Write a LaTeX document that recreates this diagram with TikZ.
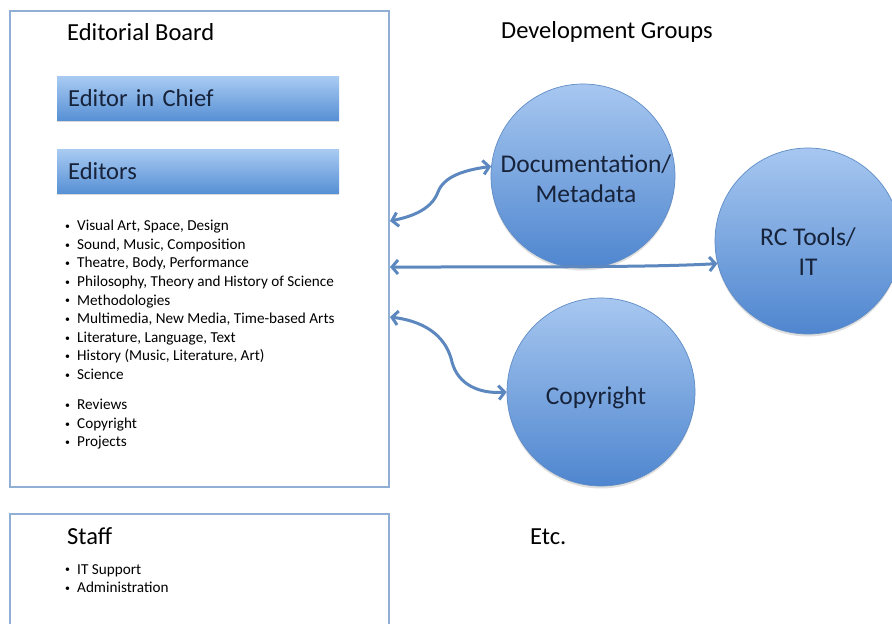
\documentclass[tikz,border=0pt]{standalone}
\usepackage{fontspec}
\setmainfont{Carlito}
\usetikzlibrary{arrows.meta,shadows}
\definecolor{frameblue}{HTML}{91AED4}
\definecolor{arrowblue}{HTML}{5C88BF}
\definecolor{bartop}{HTML}{A9CBF2}
\definecolor{barbot}{HTML}{5790D5}
\definecolor{circtop}{HTML}{A7C7F0}
\definecolor{circbot}{HTML}{4F86CF}
\definecolor{circline}{HTML}{5F8CC6}
\definecolor{darktext}{HTML}{17233A}
\newcommand{\bul}{\makebox[12pt][l]{\raisebox{1.2pt}{\scalebox{0.65}{\textbullet}}}}
\tikzset{
  panel/.style={draw=frameblue, line width=1.5pt, fill=white,
    drop shadow={opacity=0.15, shadow xshift=0pt, shadow yshift=-1.5pt}},
  titletext/.style={anchor=west, inner sep=0pt, font=\fontsize{24.5}{28}\selectfont, text=black},
  bar/.style={minimum width=281pt, minimum height=44pt, top color=bartop, bottom color=barbot,
    draw=none, anchor=north west, text width=260pt, align=left, inner xsep=11pt,
    font=\fontsize{24.5}{28}\selectfont, text=darktext,
    drop shadow={opacity=0.3, shadow xshift=0pt, shadow yshift=-2pt}},
  group/.style={circle, minimum size=#1, top color=circtop, bottom color=circbot,
    draw=circline, line width=0.7pt,
    drop shadow={opacity=0.25, shadow xshift=0pt, shadow yshift=-2.5pt}},
  grouptext/.style={align=center, text=darktext, font=\fontsize{25.5}{30}\selectfont},
  itemlist/.style={anchor=north west, inner sep=0pt, align=left,
    font=\fontsize{15.2}{18.6}\selectfont, text=black},
  link/.style={draw=arrowblue, line width=3pt,
    {Straight Barb[length=6pt,width=14pt]}-{Straight Barb[length=6pt,width=14pt]}}
}
\begin{document}
\begin{tikzpicture}[x=1pt,y=-1pt]
\useasboundingbox (0,0) rectangle (892,624);
\fill[white] (0,0) rectangle (892,624);
\clip (0,0) rectangle (892,624);
% panels
\node[panel, minimum width=379pt, minimum height=476pt, anchor=north west, inner sep=0pt] (board) at (9,10) {};
\node[panel, minimum width=379pt, minimum height=130pt, anchor=north west, inner sep=0pt] (staff) at (9,513) {};
% titles
\node[titletext] (boardtitle) at (67,32) {Editorial Board};
\node[titletext] (devtitle) at (501,32) {Development Groups};
\node[titletext] (stafftitle) at (67,536) {Staff};
\node[titletext] (etc) at (530,537) {Etc.};
% bars
\node[bar] (chief) at (57,76) {Editor in Chief};
\node[bar] (editors) at (57,149) {Editors};
% lists
\node[itemlist] (topics) at (65,220) {%
\bul Visual Art, Space, Design\\
\bul Sound, Music, Composition\\
\bul Theatre, Body, Performance\\
\bul Philosophy, Theory and History of Science\\
\bul Methodologies\\
\bul Multimedia, New Media, Time-based Arts\\
\bul Literature, Language, Text\\
\bul History (Music, Literature, Art)\\
\bul Science};
\node[itemlist] (misc) at (65,399) {%
\bul Reviews\\
\bul Copyright\\
\bul Projects};
\node[itemlist] (stafflist) at (65,564) {%
\bul IT Support\\
\bul Administration};
% circles
\node[group=184pt] (doc) at (583,176) {};
\node[grouptext] (doctext) at (586,179) {Documentation/\\Metadata};
\node[group=186pt] (rc) at (808,241) {};
\node[grouptext] (rctext) at (808,252) {RC Tools/\\IT};
\node[group=188pt] (copy) at (601,392) {};
\node[grouptext] (copytext) at (596,398) {Copyright};
% connectors
\coordinate (a1) at (390,221);
\coordinate (a2) at (390,267);
\coordinate (a3) at (390,317);
\draw[link] (a1) .. controls (415,216) and (432,208) .. (438,192)
  .. controls (444,176) and (465,170) .. (doc.174);
\draw[link] (a2) .. controls (550,267) and (660,267) .. (rc.194);
\draw[link] (a3) .. controls (430,322) and (447,340) .. (452,362)
  .. controls (458,385) and (480,394) .. (copy.west);
\end{tikzpicture}
\end{document}
